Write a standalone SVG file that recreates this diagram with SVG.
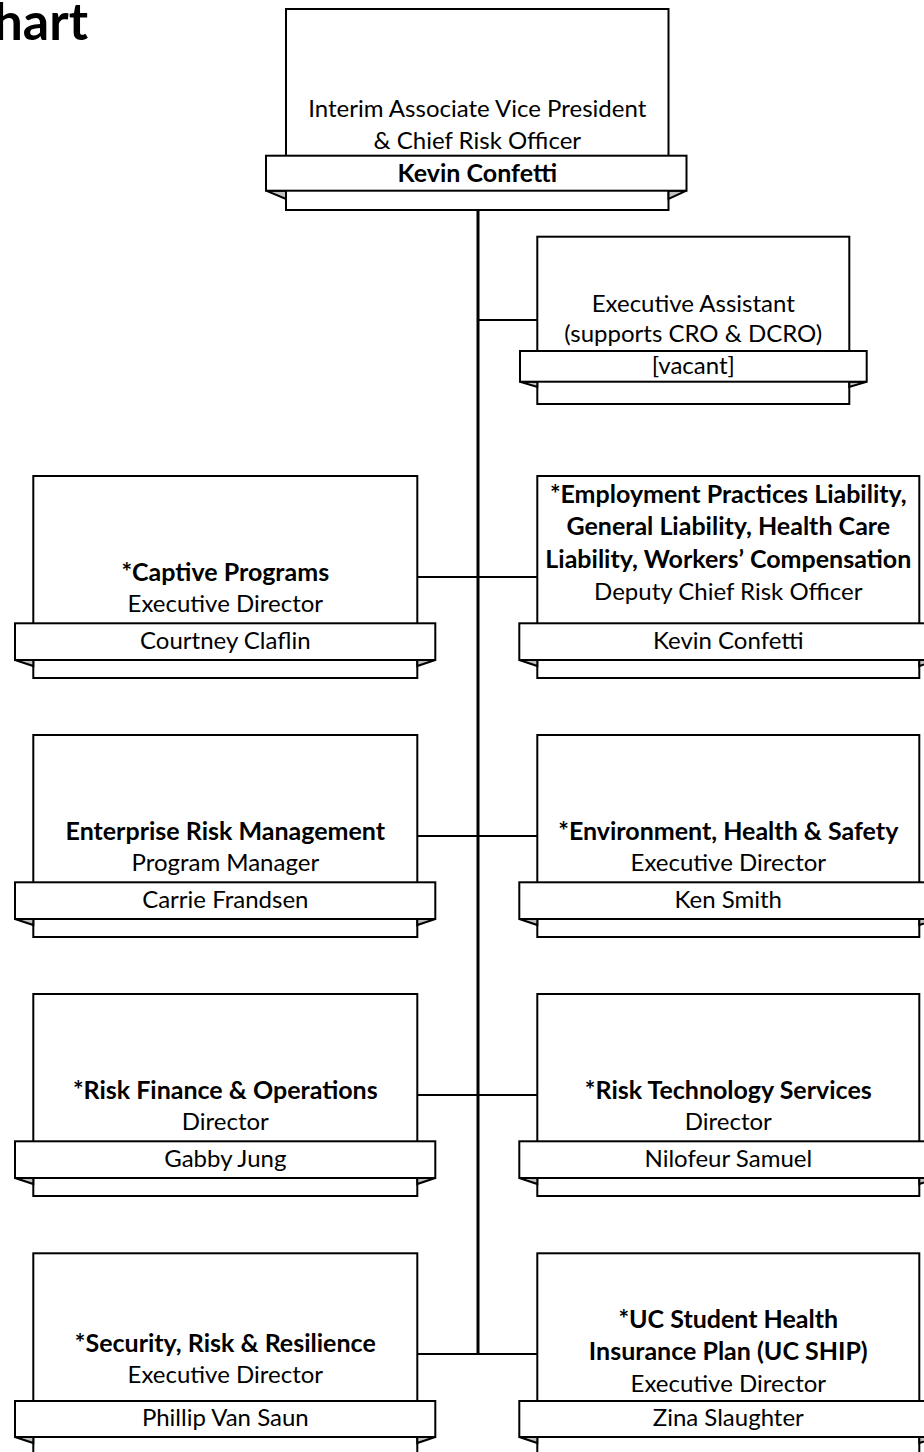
<svg xmlns="http://www.w3.org/2000/svg" width="924" height="1452" viewBox="0 0 924 1452">
<style>
.bx{fill:#fff;stroke:#000;stroke-width:2}
.fold{fill:#c0c0c0;stroke:#000;stroke-width:2;stroke-linejoin:miter}
.t{font-family:Lato,"Open Sans","Liberation Sans",sans-serif;font-size:24px;text-anchor:middle;fill:#000}
.b{font-weight:bold;font-size:25px}
.cn{stroke:#000;stroke-width:2;fill:none}
.title{font-family:Lato,"Open Sans","Liberation Sans",sans-serif;font-size:52px;font-weight:bold;text-anchor:end;fill:#000}
</style>
<rect width="924" height="1452" fill="#fff"/>
<text class="title" x="88" y="40">hart</text>

<g id="connectors">
<line class="cn" x1="478" y1="210" x2="478" y2="1355" style="stroke-width:3"/>
<line class="cn" x1="478" y1="320" x2="537" y2="320"/>
<line class="cn" x1="417" y1="577" x2="537" y2="577"/>
<line class="cn" x1="417" y1="836" x2="537" y2="836"/>
<line class="cn" x1="417" y1="1095" x2="537" y2="1095"/>
<line class="cn" x1="417" y1="1354" x2="537" y2="1354"/>
</g>

<g id="cro">
<rect class="bx" x="286" y="9" width="382.5" height="201"/>
<polygon class="fold" points="266,190.7 286,190.7 286,199"/>
<polygon class="fold" points="686.5,190.7 668.5,190.7 668.5,199"/>
<rect class="bx" x="266" y="155.7" width="420.5" height="35"/>
<text class="t" x="477.3" y="117">Interim Associate Vice President</text>
<text class="t" x="477.3" y="148.5">&amp; Chief Risk Officer</text>
<text class="t b" x="477.3" y="182">Kevin Confetti</text>
</g>

<g id="ea">
<rect class="bx" x="537.3" y="236.7" width="312" height="167.3"/>
<polygon class="fold" points="520,381.7 537.3,381.7 537.3,387"/>
<polygon class="fold" points="866.7,381.7 849.3,381.7 849.3,387"/>
<rect class="bx" x="520" y="351" width="346.7" height="30.7"/>
<text class="t" x="693.3" y="311.5">Executive Assistant</text>
<text class="t" x="693.3" y="342">(supports CRO &amp; DCRO)</text>
<text class="t" x="693.3" y="374">[vacant]</text>
</g>

<g id="captive">
<rect class="bx" x="33.3" y="476" width="384" height="202"/>
<polygon class="fold" points="15,660 33.3,660 33.3,666"/>
<polygon class="fold" points="435.3,660 417.3,660 417.3,666"/>
<rect class="bx" x="15" y="623.3" width="420.3" height="36.7"/>
<text class="t b" x="225.3" y="581">*Captive Programs</text>
<text class="t" x="225.3" y="612">Executive Director</text>
<text class="t" x="225.3" y="649">Courtney Claflin</text>
</g>
<g id="dcro">
<rect class="bx" x="537.3" y="476" width="382" height="202"/>
<polygon class="fold" points="519.3,660 537.3,660 537.3,666"/>
<polygon class="fold" points="937.3,660 919.3,660 919.3,666"/>
<rect class="bx" x="519.3" y="623.3" width="418" height="36.7"/>
<text class="t b" x="728.3" y="503">*Employment Practices Liability,</text>
<text class="t b" x="728.3" y="535">General Liability, Health Care</text>
<text class="t b" x="728.3" y="567.5">Liability, Workers’ Compensation</text>
<text class="t" x="728.3" y="599.5">Deputy Chief Risk Officer</text>
<text class="t" x="728.3" y="649">Kevin Confetti</text>
</g>

<g id="erm">
<rect class="bx" x="33.3" y="735" width="384" height="202"/>
<polygon class="fold" points="15,919 33.3,919 33.3,925"/>
<polygon class="fold" points="435.3,919 417.3,919 417.3,925"/>
<rect class="bx" x="15" y="882.3" width="420.3" height="36.7"/>
<text class="t b" x="225.3" y="840">Enterprise Risk Management</text>
<text class="t" x="225.3" y="871">Program Manager</text>
<text class="t" x="225.3" y="908">Carrie Frandsen</text>
</g>
<g id="ehs">
<rect class="bx" x="537.3" y="735" width="382" height="202"/>
<polygon class="fold" points="519.3,919 537.3,919 537.3,925"/>
<polygon class="fold" points="937.3,919 919.3,919 919.3,925"/>
<rect class="bx" x="519.3" y="882.3" width="418" height="36.7"/>
<text class="t b" x="728.3" y="840">*Environment, Health &amp; Safety</text>
<text class="t" x="728.3" y="871">Executive Director</text>
<text class="t" x="728.3" y="908">Ken Smith</text>
</g>

<g id="rfo">
<rect class="bx" x="33.3" y="994" width="384" height="202"/>
<polygon class="fold" points="15,1178 33.3,1178 33.3,1184"/>
<polygon class="fold" points="435.3,1178 417.3,1178 417.3,1184"/>
<rect class="bx" x="15" y="1141.3" width="420.3" height="36.7"/>
<text class="t b" x="225.3" y="1099">*Risk Finance &amp; Operations</text>
<text class="t" x="225.3" y="1130">Director</text>
<text class="t" x="225.3" y="1167">Gabby Jung</text>
</g>
<g id="rts">
<rect class="bx" x="537.3" y="994" width="382" height="202"/>
<polygon class="fold" points="519.3,1178 537.3,1178 537.3,1184"/>
<polygon class="fold" points="937.3,1178 919.3,1178 919.3,1184"/>
<rect class="bx" x="519.3" y="1141.3" width="418" height="36.7"/>
<text class="t b" x="728.3" y="1099">*Risk Technology Services</text>
<text class="t" x="728.3" y="1130">Director</text>
<text class="t" x="728.3" y="1167">Nilofeur Samuel</text>
</g>

<g id="srr">
<rect class="bx" x="33.3" y="1253.3" width="384" height="202"/>
<polygon class="fold" points="15,1437 33.3,1437 33.3,1443"/>
<polygon class="fold" points="435.3,1437 417.3,1437 417.3,1443"/>
<rect class="bx" x="15" y="1401" width="420.3" height="36"/>
<text class="t b" x="225.3" y="1352">*Security, Risk &amp; Resilience</text>
<text class="t" x="225.3" y="1383">Executive Director</text>
<text class="t" x="225.3" y="1426">Phillip Van Saun</text>
</g>
<g id="ucship">
<rect class="bx" x="537.3" y="1253.3" width="382" height="202"/>
<polygon class="fold" points="519.3,1437 537.3,1437 537.3,1443"/>
<polygon class="fold" points="937.3,1437 919.3,1437 919.3,1443"/>
<rect class="bx" x="519.3" y="1401" width="418" height="36"/>
<text class="t b" x="728.3" y="1328">*UC Student Health</text>
<text class="t b" x="728.3" y="1360">Insurance Plan (UC SHIP)</text>
<text class="t" x="728.3" y="1392">Executive Director</text>
<text class="t" x="728.3" y="1426">Zina Slaughter</text>
</g>
</svg>
